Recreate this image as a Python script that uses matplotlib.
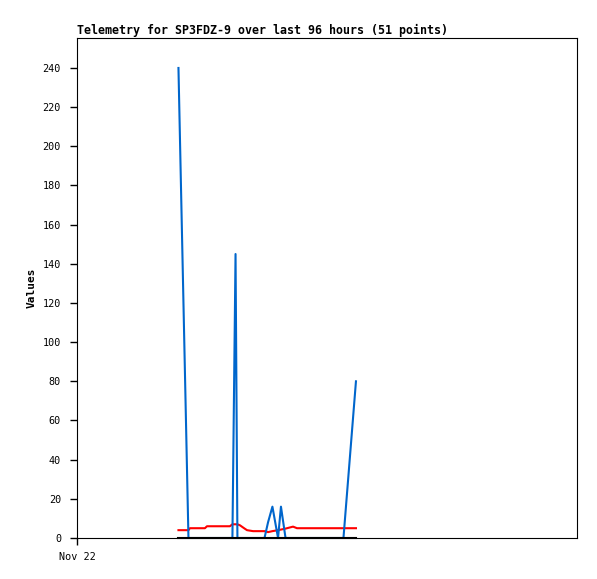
import matplotlib
matplotlib.use("Agg")
import matplotlib.pyplot as plt

# Hours since Nov 22 00:00 for the sampled points
hours = [48.7, 53.5, 54.2, 61.4, 62.4, 73.4, 74.6, 76.1, 77.0, 78.2, 80.2, 81.6,
         84.5, 90.0, 91.7, 93.8, 96.5, 97.9, 100.1, 103.7, 105.6, 127.9, 133.9]

blue_vals = [240, 0, 0, 0, 0, 0, 0, 145, 0, 0, 0, 0,
             0, 0, 8, 16, 0, 16, 0, 0, 0, 0, 80]
red_vals = [4, 4, 5, 5, 6, 6, 7, 7, 7, 6.5, 5, 4,
            3.5, 3.5, 3, 3.5, 4, 4.3, 4.8, 5.8, 5, 5, 5]
black_vals = [0] * len(hours)

y_ticks = list(range(0, 241, 20))
x_tick_labels = ["Nov 22"]

plt.rcParams["font.family"] = "DejaVu Sans Mono"

fig = plt.figure(figsize=(5.97, 5.79), dpi=100)
ax = fig.add_axes([77 / 597, 41 / 579, 500 / 597, 500 / 579])

ax.plot(hours, red_vals, color="#ff0000", lw=1.5, zorder=2)
ax.plot(hours, blue_vals, color="#0066cc", lw=1.5, zorder=3)
ax.plot(hours, black_vals, color="black", lw=1.5, zorder=4, clip_on=False)

ax.set_xlim(0, 240)
ax.set_ylim(0, 255.3)
ax.set_yticks(y_ticks)
ax.set_xticks([0])
ax.set_xticklabels(x_tick_labels)
ax.tick_params(axis="both", direction="out", length=5, width=1, labelsize=7.3, colors="black")
ax.tick_params(axis="y", pad=6.5)
ax.tick_params(axis="x", pad=5)

for s in ax.spines.values():
    s.set_linewidth(0.8)
    s.set_color("black")

ax.set_ylabel("Values", fontsize=8, fontweight="bold", labelpad=4)
ax.set_title("Telemetry for SP3FDZ-9 over last 96 hours (51 points)",
             loc="left", fontsize=8.4, fontweight="bold", pad=3)

fig.savefig("out.png", dpi=100)
